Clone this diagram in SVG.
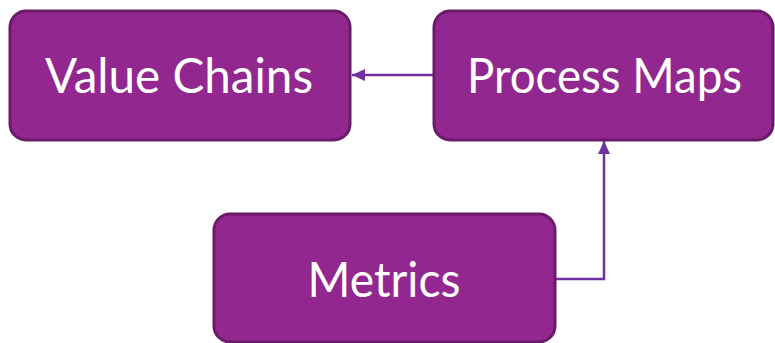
<svg xmlns="http://www.w3.org/2000/svg" width="775" height="343" viewBox="0 0 775 343">
  <style>
    .box { fill: #92278f; stroke: #6b1a69; stroke-width: 3; }
    .label { fill: #ffffff; font-family: Lato, "Open Sans", sans-serif; font-size: 48px; text-anchor: middle; }
    .link { fill: none; stroke: #7030a0; stroke-width: 2.5; }
  </style>
  <defs>
    <marker id="arrow" markerWidth="13" markerHeight="12" refX="13" refY="6" orient="auto" markerUnits="userSpaceOnUse" viewBox="0 0 13 12">
      <path d="M0,0 L13,6 L0,12 z" fill="#7030a0"/>
    </marker>
  </defs>
  <g id="connectors">
    <line class="link" x1="433" y1="75" x2="352" y2="75" marker-end="url(#arrow)"/>
    <polyline class="link" points="556,279 604,279 604,141" marker-end="url(#arrow)"/>
  </g>
  <g id="value-chains">
    <rect class="box" x="10" y="11" width="340" height="129" rx="16"/>
    <text class="label" x="179" y="93" textLength="268" lengthAdjust="spacingAndGlyphs">Value Chains</text>
  </g>
  <g id="process-maps">
    <rect class="box" x="434" y="11" width="339" height="129" rx="16"/>
    <text class="label" x="604.5" y="93" textLength="275" lengthAdjust="spacingAndGlyphs">Process Maps</text>
  </g>
  <g id="metrics">
    <rect class="box" x="214" y="214" width="341" height="128" rx="16"/>
    <text class="label" x="384" y="297" textLength="153" lengthAdjust="spacingAndGlyphs">Metrics</text>
  </g>
</svg>
